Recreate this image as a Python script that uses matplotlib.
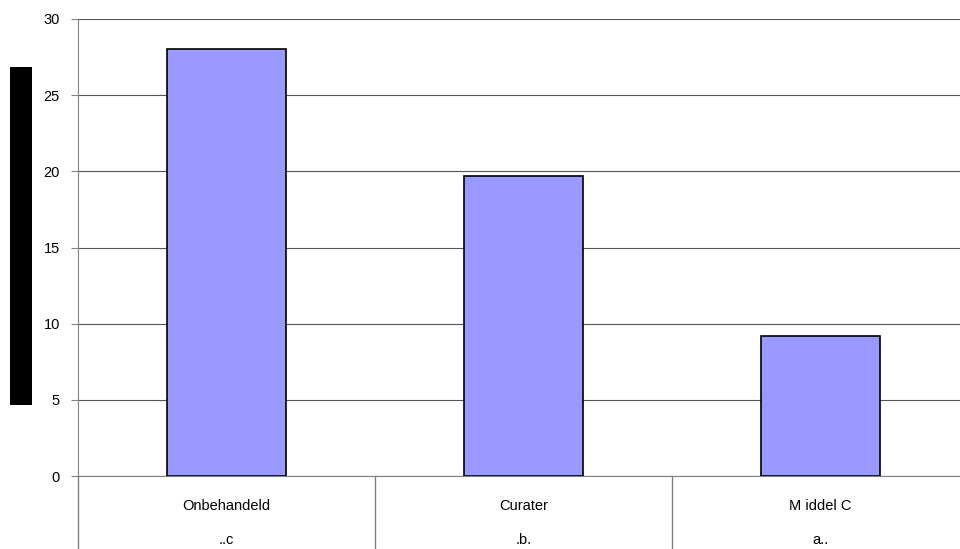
import numpy as np
import matplotlib.pyplot as plt
from matplotlib.patches import Rectangle

plt.rcParams['font.family'] = ['Liberation Sans', 'DejaVu Sans']

# =========================================
# Data
# =========================================
categories = ['Onbehandeld', 'Curater', 'M iddel C']
groups = ['..c', '.b.', 'a..']
values = [28.0, 19.7, 9.2]

# =========================================
# Figure
# =========================================
fig = plt.figure(figsize=(9.6, 5.49), dpi=100)
ax = fig.add_axes([78 / 960, 73 / 549, 891 / 960, 457 / 549])

x = np.arange(len(categories))
ax.bar(x, values, width=0.4, color='#9999ff', edgecolor='black', linewidth=1.2, zorder=3)

ax.set_xlim(-0.5, len(categories) - 0.5)
ax.set_ylim(0, 30)
ax.set_yticks(np.arange(0, 31, 5))
ax.yaxis.grid(True, color='#555555', linewidth=0.8, zorder=0)
ax.tick_params(axis='y', direction='out', length=5, color='#808080', labelsize=10.5, pad=8)
ax.set_xticks([])

for s in ['top', 'right']:
    ax.spines[s].set_visible(False)
ax.spines['left'].set_color('#808080')
ax.spines['bottom'].set_color('#808080')

# category labels, two levels, with separators
trans = ax.get_xaxis_transform()
for i in range(len(categories)):
    ax.text(x[i], -0.065, categories[i], transform=trans, ha='center', va='center', fontsize=10.5)
    ax.text(x[i], -0.14, groups[i], transform=trans, ha='center', va='center', fontsize=10.5)
for b in np.arange(-0.5, len(categories), 1.0):
    ax.plot([b, b], [0, -0.2], transform=trans, color='#808080', linewidth=1, clip_on=False)

# black block where the y label was
fig.patches.append(Rectangle((10 / 960, (549 - 405) / 549), 22 / 960, 338 / 549,
                             transform=fig.transFigure, facecolor='black', edgecolor='none'))

fig.savefig('out.png', dpi=100)
